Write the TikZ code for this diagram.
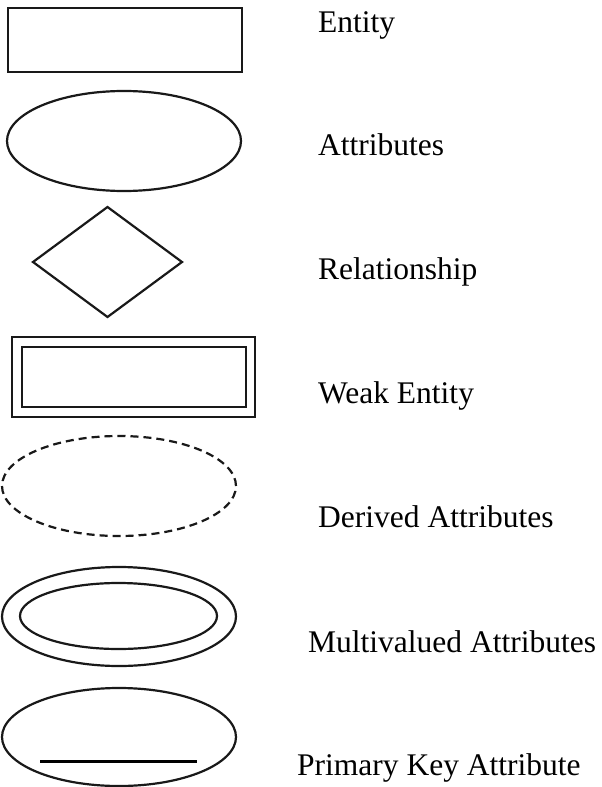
\documentclass[tikz,border=0pt]{standalone}
\usepackage{fontspec}
\setmainfont{Liberation Serif}
\usetikzlibrary{shapes.geometric}
\begin{document}
\begin{tikzpicture}[x=1pt,y=-1pt,
  shp/.style={draw=black!90,line width=2.2pt,inner sep=0pt,outer sep=0pt},
  box/.style={shp,rectangle},
  ell/.style={shp,ellipse},
  dia/.style={shp,diamond},
  lbl/.style={anchor=base west,inner sep=0pt,font=\fontsize{31.5}{36}\selectfont}]
\useasboundingbox (0,0) rectangle (602,787);
% Entity
\node[box,minimum width=234pt,minimum height=64pt] (ent) at (125,40) {};
\node[lbl] (entL) at (318,32) {Entity};
% Attribute
\node[ell,minimum width=234pt,minimum height=100pt] (att) at (124,141) {};
\node[lbl] (attL) at (318,155) {Attributes};
% Relationship
\node[dia,minimum width=149pt,minimum height=110pt] (rel) at (107.5,262) {};
\node[lbl] (relL) at (318,279) {Relationship};
% Weak entity
\node[box,minimum width=243pt,minimum height=80pt] (weakO) at (133.5,377) {};
\node[box,minimum width=224pt,minimum height=60pt] (weakI) at (134,377) {};
\node[lbl] (weakL) at (318,403) {Weak Entity};
% Derived attribute
\node[ell,dash pattern=on 8pt off 5pt,minimum width=234pt,minimum height=100pt] (der) at (119,486) {};
\node[lbl] (derL) at (318,527) {Derived Attributes};
% Multivalued
\node[ell,minimum width=234pt,minimum height=99pt] (mulO) at (119,616.5) {};
\node[ell,minimum width=197pt,minimum height=66pt] (mulI) at (118.5,616) {};
\node[lbl] (mulL) at (308,652) {Multivalued Attributes};
% Primary key
\node[ell,minimum width=234pt,minimum height=98pt] (pk) at (119,737) {};
\coordinate (pkA) at (40,761);
\coordinate (pkB) at (197,761);
\draw[line width=3pt] (pkA) -- (pkB);
\node[lbl] (pkL) at (297,775) {Primary Key Attribute};
\end{tikzpicture}
\end{document}
